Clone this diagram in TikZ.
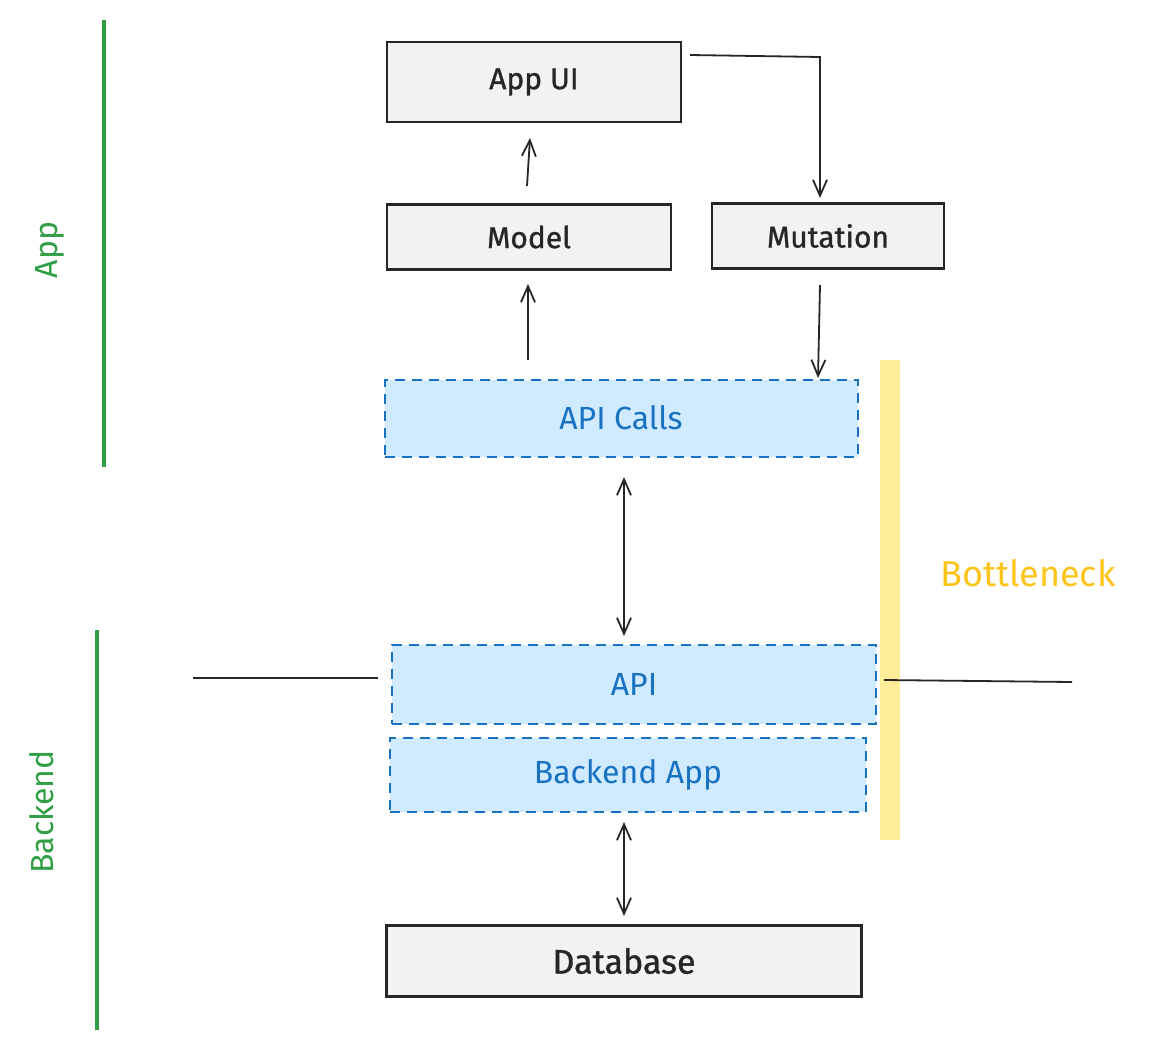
\documentclass[tikz,border=0pt]{standalone}
\usepackage{fontspec}
\setmainfont{Fira Sans}
\usetikzlibrary{arrows.meta,patterns}
\definecolor{gfill}{HTML}{F2F2F2}
\definecolor{bfill}{HTML}{D0EBFF}
\definecolor{bline}{HTML}{1971C2}
\definecolor{grn}{HTML}{2F9E44}
\definecolor{ylw}{HTML}{FFEC99}
\definecolor{ytxt}{HTML}{FCC419}
\tikzset{
 box/.style={draw=black!85,line width=2.2pt,fill=gfill,font=\fontsize{30}{32}\selectfont\addfontfeatures{FakeBold=1},text=black!85},
 bbox/.style={draw=bline,dashed,dash pattern=on 10pt off 7pt,line width=2pt,fill=bfill,font=\fontsize{32}{34}\selectfont,text=bline},
 arr/.style={-{Straight Barb[length=16pt,width=14pt]},line width=1.8pt,draw=black!85},
 darr/.style={{Straight Barb[length=16pt,width=14pt]}-{Straight Barb[length=16pt,width=14pt]},line width=1.8pt,draw=black!85},
 gl/.style={draw=grn,line width=4pt},
 lbl/.style={text=grn,font=\fontsize{32}{34}\selectfont,rotate=90}
}
\begin{document}
\begin{tikzpicture}[x=1pt,y=-1pt]
\useasboundingbox (0,0) rectangle (1153,1052);
\node[box,minimum width=294pt,minimum height=80pt] (ui) at (534,82) {App UI};
\node[box,minimum width=284pt,minimum height=65pt] (model) at (529,237) {Model};
\node[box,minimum width=232pt,minimum height=65pt] (mut) at (828,236) {Mutation};
\node[bbox,minimum width=473pt,minimum height=77pt] (calls) at (621,418) {API Calls};
\node[bbox,minimum width=484pt,minimum height=79pt] (api) at (634,684) {API};
\node[bbox,minimum width=476pt,minimum height=74pt] (bapp) at (628,775) {Backend App};
\node[box,minimum width=475pt,minimum height=71pt,font=\fontsize{34}{36}\selectfont\addfontfeatures{FakeBold=1}] (db) at (624,961) {Database};
% green side lines
\coordinate (g1) at (104,20); \coordinate (g2) at (104,467);
\coordinate (g3) at (97,630); \coordinate (g4) at (97,1030);
\draw[gl] (g1) -- (g2);
\draw[gl] (g3) -- (g4);
\node[lbl] (applbl) at (50,250) {App};
\node[lbl] (belbl) at (42,812) {Backend};
% bottleneck
\coordinate (y1) at (890,360); \coordinate (y2) at (890,840);
\draw[draw=ylw,line width=20pt] (y1) -- (y2);
\node[text=ytxt,font=\fontsize{36}{38}\selectfont] (bn) at (1028,573) {Bottleneck};
% horizontal lines
\coordinate (h1) at (193,678); \coordinate (h2) at (378,678);
\coordinate (h3) at (884,680); \coordinate (h4) at (1072,682);
\draw[line width=1.8pt,black!85] (h1) -- (h2);
\draw[line width=1.8pt,black!85] (h3) -- (h4);
% arrows
\coordinate (p1) at (527,186); \coordinate (p2) at (530,138);
\coordinate (p3) at (528,360); \coordinate (p4) at (528,284);
\coordinate (p5) at (690,55); \coordinate (p6) at (820,57); \coordinate (p7) at (820,198);
\coordinate (p8) at (820,285); \coordinate (p9) at (818,378);
\coordinate (p10) at (624,477); \coordinate (p11) at (624,636);
\coordinate (p12) at (624,822); \coordinate (p13) at (624,916);
\draw[arr] (p1) -- (p2);
\draw[arr] (p3) -- (p4);
\draw[arr] (p5) -- (p6) -- (p7);
\draw[arr] (p8) -- (p9);
\draw[darr] (p10) -- (p11);
\draw[darr] (p12) -- (p13);
\end{tikzpicture}
\end{document}
